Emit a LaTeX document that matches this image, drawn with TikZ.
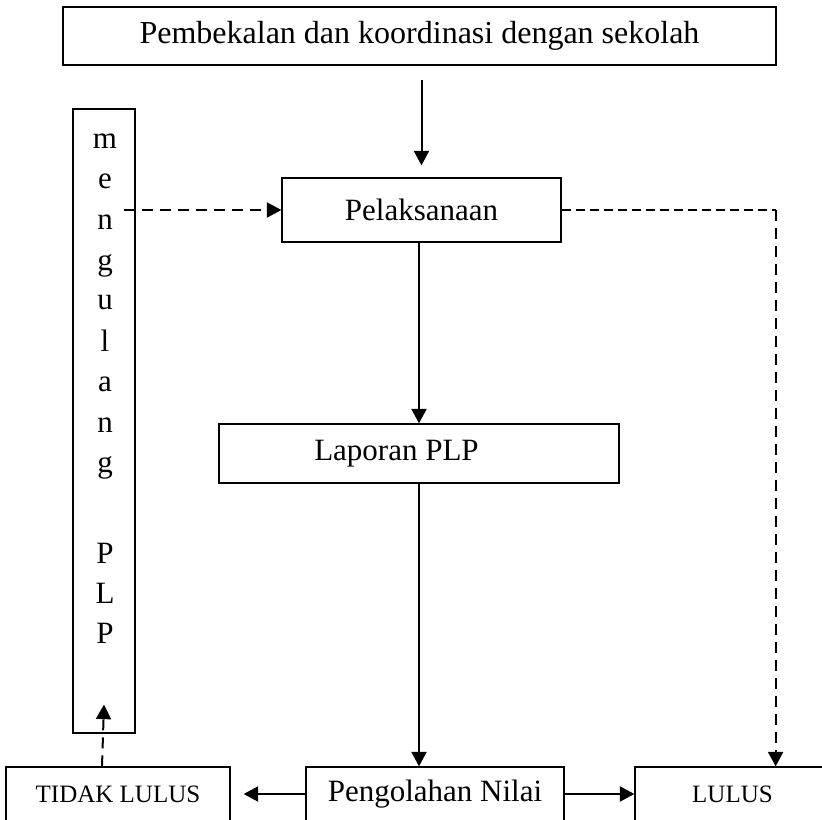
\documentclass[tikz,border=0pt]{standalone}
\usepackage{fontspec}
\setmainfont{Liberation Serif}
\usetikzlibrary{arrows.meta}
\begin{document}
\begin{tikzpicture}
    [x=0.4pt, y=-0.4pt,
    kotak/.style={draw, line width=0.5pt, inner sep=0pt, font=\fontsize{12.4}{14}\selectfont},
    kecil/.style={font=\fontsize{10}{12}\selectfont},
    panah/.style={line width=0.8pt, -{Triangle[length=5.8pt,width=6pt]}},
    putus/.style={dash pattern=on 4.4pt off 2.8pt}]
    \useasboundingbox (0,0) rectangle (822,820);
    % kotak-kotak
    \node[kotak, font=\fontsize{12.8}{14}\selectfont, minimum width=285.2pt, minimum height=23.2pt] (bekal) at (419.5,36) {Pembekalan dan koordinasi dengan sekolah};
    \node[kotak, minimum width=111.6pt, minimum height=25.6pt] (laksana) at (421.5,210) {Pelaksanaan};
    \node[kotak, minimum width=160pt, minimum height=23.6pt] (laporan) at (419,453.5) {Laporan PLP\hspace*{18pt}};
    \node[kotak, minimum width=24.8pt, minimum height=249.6pt] (ulang) at (104,421) {};
    \node[kotak, kecil, minimum width=89.6pt, minimum height=21.6pt] (tidak) at (118,794) {TIDAK LULUS};
    \node[kotak, minimum width=103.2pt, minimum height=21.6pt] (olah) at (435,794) {Pengolahan Nilai};
    \node[kotak, kecil, minimum width=78pt, minimum height=21.6pt] (lulus) at (732.5,794) {LULUS};
    % huruf tegak
    \foreach \huruf/\yy [count=\i] in {m/148, e/189, n/229, g/270, u/310, l/351, a/391, n/432, g/472, P/563, L/603, P/643}
      \node[anchor=base, font=\fontsize{12.4}{14}\selectfont, inner sep=0pt] (h\i) at (105,\yy) {\huruf};
    \path (laksana.east) ++(214,0) coordinate (belok);
    % panah
    \draw[panah] (laksana.north |- bekal.south) ++(0,14) -- ([yshift=4.8pt]laksana.north);
    \draw[panah, putus] ([xshift=-4.8pt]ulang.east |- laksana.west) -- (laksana.west);
    \draw[line width=0.6pt, dash pattern=on 3.6pt off 2pt] (laksana.east) -- (belok);
    \draw[panah, putus] (belok) -- (belok |- lulus.north);
    \draw[panah] (laporan.north |- laksana.south) -- (laporan.north);
    \draw[panah] (laporan.south) -- (laporan.south |- olah.north);
    \draw[panah] (olah.west) -- ([xshift=5.2pt]tidak.east);
    \draw[panah] (olah.east) -- (lulus.west);
    \draw[panah, putus] ([xshift=-0.8pt]tidak.north -| ulang.south) -- ([yshift=11.6pt]ulang.south);
\end{tikzpicture}
\end{document}
